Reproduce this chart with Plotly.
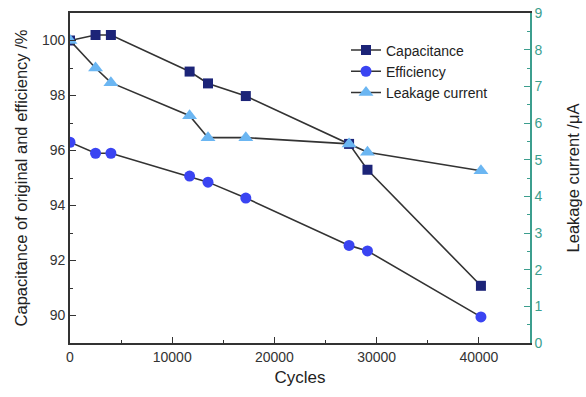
import plotly.graph_objects as go

cycles = [0, 2500, 4000, 11700, 13500, 17200, 27300, 29100, 40200]
capacitance = [100.0, 100.2, 100.2, 98.87, 98.44, 97.98, 96.24, 95.3, 91.08]
efficiency = [96.3, 95.9, 95.9, 95.07, 94.85, 94.27, 92.55, 92.35, 89.95]
leakage = [8.25, 7.5, 7.1, 6.2, 5.6, 5.6, 5.43, 5.2, 4.7]

line_col = "#333333"
teal = "#3C9E8E"

fig = go.Figure()
fig.add_trace(go.Scatter(
    x=cycles, y=capacitance, name="Capacitance", mode="lines+markers",
    line=dict(color=line_col, width=1.6),
    marker=dict(symbol="square", size=10, color="#1C2478"),
))
fig.add_trace(go.Scatter(
    x=cycles, y=efficiency, name="Efficiency", mode="lines+markers",
    line=dict(color=line_col, width=1.6),
    marker=dict(symbol="circle", size=11, color="#3A44F2"),
))
fig.add_trace(go.Scatter(
    x=cycles, y=leakage, name="Leakage current", mode="lines+markers",
    yaxis="y2",
    line=dict(color=line_col, width=1.6),
    marker=dict(symbol="triangle-up", size=13, color="#6BB6F2"),
))

font_family = "Liberation Sans, Arial, sans-serif"

fig.update_layout(
    width=586, height=397,
    margin=dict(l=70, r=56, t=13, b=54),
    paper_bgcolor="white", plot_bgcolor="white",
    font=dict(family=font_family, size=14, color="#333333"),
    showlegend=True,
    legend=dict(
        x=0.6, y=0.935, xanchor="left", yanchor="top",
        bgcolor="rgba(0,0,0,0)", font=dict(size=14, color="#222222"),
        tracegroupgap=0, itemwidth=30,
    ),
    xaxis=dict(
        range=[0, 45000], dtick=10000, tick0=0, tickformat="d", automargin=False,
        ticks="inside", ticklen=6, tickwidth=1.2, tickcolor="#333333",
        minor=dict(dtick=5000, ticks="inside", ticklen=3, tickcolor="#333333"),
        showline=True, linecolor="#333333", linewidth=1.6, mirror=True,
        showgrid=False, zeroline=False,
        tickfont=dict(size=14, color="#333333"),
        title=dict(text="Cycles", font=dict(size=17, color="#222222"), standoff=8),
    ),
    yaxis=dict(
        range=[89, 101], tickvals=[90, 92, 94, 96, 98, 100], automargin=False,
        ticks="inside", ticklen=6, tickwidth=1.2, tickcolor="#333333",
        minor=dict(tickvals=[89, 91, 93, 95, 97, 99, 101], ticks="inside", ticklen=3, tickcolor="#333333"),
        showline=True, linecolor="#333333", linewidth=1.6,
        showgrid=False, zeroline=False,
        tickfont=dict(size=14, color="#333333"),
        title=dict(text="Capacitance of original and efficiency /%",
                   font=dict(size=16.5, color="#222222"), standoff=10),
    ),
    yaxis2=dict(
        range=[0, 9], dtick=1, tick0=0, overlaying="y", side="right", automargin=False,
        ticks="inside", ticklen=6, tickwidth=1.2, tickcolor=teal,
        minor=dict(dtick=0.5, ticks="inside", ticklen=3, tickcolor=teal),
        showline=True, linecolor=teal, linewidth=1.6,
        showgrid=False, zeroline=False,
        tickfont=dict(size=14, color=teal),
        title=dict(text="Leakage current /μA",
                   font=dict(size=16.5, color="#222222"), standoff=26),
    ),
)

fig.write_html("out.html")
